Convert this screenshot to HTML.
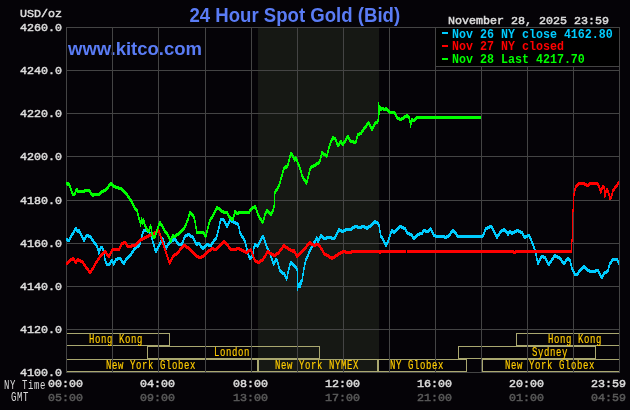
<!DOCTYPE html>
<html><head><meta charset="utf-8"><style>
html,body{margin:0;padding:0;background:#050307;width:630px;height:410px;overflow:hidden}
svg{display:block;will-change:transform}
text{text-rendering:optimizeLegibility}
</style></head><body><svg width="630" height="410" viewBox="0 0 630 410" shape-rendering="crispEdges"><defs><clipPath id="cl"><rect x="66" y="27" width="554" height="346"/></clipPath></defs><text transform="translate(189.5 22) scale(0.93 1)" font-family="Liberation Sans" font-weight="bold" font-size="20" fill="#5a7cf5">24 Hour Spot Gold (Bid)</text><text transform="translate(68 55) scale(0.975 1)" font-family="Liberation Sans" font-weight="bold" font-size="19" fill="#5a7cf5">www.kitco.com</text><rect x="258" y="27" width="121" height="346" fill="#161814"/><g clip-path="url(#cl)"><path d="M40 333h130v1h-130zM40 345h130v1h-130zM40 333h1v13h-1zM169 333h1v13h-1z" fill="#aaa870"/><path d="M516 333h135v1h-135zM516 345h135v1h-135zM516 333h1v13h-1zM650 333h1v13h-1z" fill="#aaa870"/><path d="M147 346h173v1h-173zM147 358h173v1h-173zM147 346h1v13h-1zM319 346h1v13h-1z" fill="#aaa870"/><path d="M458 346h138v1h-138zM458 358h138v1h-138zM458 346h1v13h-1zM595 346h1v13h-1z" fill="#aaa870"/><path d="M40 359h218v1h-218zM40 371h218v1h-218zM40 359h1v13h-1zM257 359h1v13h-1z" fill="#aaa870"/><path d="M258 359h120v1h-120zM258 371h120v1h-120zM258 359h1v13h-1zM377 359h1v13h-1z" fill="#aaa870"/><path d="M378 359h89v1h-89zM378 371h89v1h-89zM378 359h1v13h-1zM466 359h1v13h-1z" fill="#aaa870"/><path d="M482 359h169v1h-169zM482 371h169v1h-169zM482 359h1v13h-1zM650 359h1v13h-1z" fill="#aaa870"/></g><path d="M66 27h1v346h-1zM112 27h1v346h-1zM158 27h1v346h-1zM205 27h1v346h-1zM251 27h1v346h-1zM297 27h1v346h-1zM343 27h1v346h-1zM389 27h1v346h-1zM435 27h1v346h-1zM481 27h1v346h-1zM527 27h1v346h-1zM573 27h1v346h-1zM619 27h1v346h-1zM66 27h554v1h-554zM66 70h554v1h-554zM66 113h554v1h-554zM66 156h554v1h-554zM66 200h554v1h-554zM66 243h554v1h-554zM66 286h554v1h-554zM66 329h554v1h-554zM66 372h554v1h-554z" fill="#444444"/><rect x="436" y="28" width="183" height="38" fill="#000"/><path d="M435 27h185v1h-185zM435 66h185v1h-185zM435 27h1v40h-1zM619 27h1v40h-1z" fill="#444444"/><text transform="translate(62 31) scale(1 1.0)" font-family="Liberation Mono" font-size="11.67" stroke-width="0.5" fill="#dcdcdc" stroke="#dcdcdc" text-anchor="end">4260.0</text><text transform="translate(62 74) scale(1 1.0)" font-family="Liberation Mono" font-size="11.67" stroke-width="0.5" fill="#dcdcdc" stroke="#dcdcdc" text-anchor="end">4240.0</text><text transform="translate(62 117) scale(1 1.0)" font-family="Liberation Mono" font-size="11.67" stroke-width="0.5" fill="#dcdcdc" stroke="#dcdcdc" text-anchor="end">4220.0</text><text transform="translate(62 160) scale(1 1.0)" font-family="Liberation Mono" font-size="11.67" stroke-width="0.5" fill="#dcdcdc" stroke="#dcdcdc" text-anchor="end">4200.0</text><text transform="translate(62 204) scale(1 1.0)" font-family="Liberation Mono" font-size="11.67" stroke-width="0.5" fill="#dcdcdc" stroke="#dcdcdc" text-anchor="end">4180.0</text><text transform="translate(62 247) scale(1 1.0)" font-family="Liberation Mono" font-size="11.67" stroke-width="0.5" fill="#dcdcdc" stroke="#dcdcdc" text-anchor="end">4160.0</text><text transform="translate(62 290) scale(1 1.0)" font-family="Liberation Mono" font-size="11.67" stroke-width="0.5" fill="#dcdcdc" stroke="#dcdcdc" text-anchor="end">4140.0</text><text transform="translate(62 333) scale(1 1.0)" font-family="Liberation Mono" font-size="11.67" stroke-width="0.5" fill="#dcdcdc" stroke="#dcdcdc" text-anchor="end">4120.0</text><text transform="translate(62 376) scale(1 1.0)" font-family="Liberation Mono" font-size="11.67" stroke-width="0.5" fill="#dcdcdc" stroke="#dcdcdc" text-anchor="end">4100.0</text><text transform="translate(20 17) scale(1 1.0)" font-family="Liberation Mono" font-size="11.67" stroke-width="0.5" fill="#dcdcdc" stroke="#dcdcdc" text-anchor="start">USD/oz</text><text transform="translate(65.5 387) scale(1 1.0)" font-family="Liberation Mono" font-size="11.67" stroke-width="0.5" fill="#dcdcdc" stroke="#dcdcdc" text-anchor="middle">00:00</text><text transform="translate(65.5 401) scale(1 1.0)" font-family="Liberation Mono" font-size="11.67" stroke-width="0.5" fill="#5a5a5a" stroke="#5a5a5a" text-anchor="middle">05:00</text><text transform="translate(157.5 387) scale(1 1.0)" font-family="Liberation Mono" font-size="11.67" stroke-width="0.5" fill="#dcdcdc" stroke="#dcdcdc" text-anchor="middle">04:00</text><text transform="translate(157.5 401) scale(1 1.0)" font-family="Liberation Mono" font-size="11.67" stroke-width="0.5" fill="#5a5a5a" stroke="#5a5a5a" text-anchor="middle">09:00</text><text transform="translate(250.5 387) scale(1 1.0)" font-family="Liberation Mono" font-size="11.67" stroke-width="0.5" fill="#dcdcdc" stroke="#dcdcdc" text-anchor="middle">08:00</text><text transform="translate(250.5 401) scale(1 1.0)" font-family="Liberation Mono" font-size="11.67" stroke-width="0.5" fill="#5a5a5a" stroke="#5a5a5a" text-anchor="middle">13:00</text><text transform="translate(342.5 387) scale(1 1.0)" font-family="Liberation Mono" font-size="11.67" stroke-width="0.5" fill="#dcdcdc" stroke="#dcdcdc" text-anchor="middle">12:00</text><text transform="translate(342.5 401) scale(1 1.0)" font-family="Liberation Mono" font-size="11.67" stroke-width="0.5" fill="#5a5a5a" stroke="#5a5a5a" text-anchor="middle">17:00</text><text transform="translate(434.5 387) scale(1 1.0)" font-family="Liberation Mono" font-size="11.67" stroke-width="0.5" fill="#dcdcdc" stroke="#dcdcdc" text-anchor="middle">16:00</text><text transform="translate(434.5 401) scale(1 1.0)" font-family="Liberation Mono" font-size="11.67" stroke-width="0.5" fill="#5a5a5a" stroke="#5a5a5a" text-anchor="middle">21:00</text><text transform="translate(526.5 387) scale(1 1.0)" font-family="Liberation Mono" font-size="11.67" stroke-width="0.5" fill="#dcdcdc" stroke="#dcdcdc" text-anchor="middle">20:00</text><text transform="translate(526.5 401) scale(1 1.0)" font-family="Liberation Mono" font-size="11.67" stroke-width="0.5" fill="#5a5a5a" stroke="#5a5a5a" text-anchor="middle">01:00</text><text transform="translate(626 387) scale(1 1.0)" font-family="Liberation Mono" font-size="11.67" stroke-width="0.5" fill="#dcdcdc" stroke="#dcdcdc" text-anchor="end">23:59</text><text transform="translate(626 401) scale(1 1.0)" font-family="Liberation Mono" font-size="11.67" stroke-width="0.5" fill="#5a5a5a" stroke="#5a5a5a" text-anchor="end">04:59</text><text transform="translate(4 389) scale(0.9 1.2)" font-family="Liberation Mono" font-size="10" letter-spacing="0.667" fill="#dcdcdc" stroke="#dcdcdc" stroke-width="0">NY Time</text><text transform="translate(11 401) scale(0.9 1.2)" font-family="Liberation Mono" font-size="10" letter-spacing="0.667" fill="#dcdcdc" stroke="#dcdcdc" stroke-width="0">GMT</text><text transform="translate(89 343) scale(0.9 1.2)" font-family="Liberation Mono" font-size="10" letter-spacing="0.667" fill="#ffcc00" stroke="#ffcc00" stroke-width="0.15">Hong Kong</text><text transform="translate(548 343) scale(0.9 1.2)" font-family="Liberation Mono" font-size="10" letter-spacing="0.667" fill="#ffcc00" stroke="#ffcc00" stroke-width="0.15">Hong Kong</text><text transform="translate(214 356) scale(0.9 1.2)" font-family="Liberation Mono" font-size="10" letter-spacing="0.667" fill="#ffcc00" stroke="#ffcc00" stroke-width="0.15">London</text><text transform="translate(532 356) scale(0.9 1.2)" font-family="Liberation Mono" font-size="10" letter-spacing="0.667" fill="#ffcc00" stroke="#ffcc00" stroke-width="0.15">Sydney</text><text transform="translate(106 369) scale(0.9 1.2)" font-family="Liberation Mono" font-size="10" letter-spacing="0.667" fill="#ffcc00" stroke="#ffcc00" stroke-width="0.15">New York Globex</text><text transform="translate(275 369) scale(0.9 1.2)" font-family="Liberation Mono" font-size="10" letter-spacing="0.667" fill="#ffcc00" stroke="#ffcc00" stroke-width="0.15">New York NYMEX</text><text transform="translate(390 369) scale(0.9 1.2)" font-family="Liberation Mono" font-size="10" letter-spacing="0.667" fill="#ffcc00" stroke="#ffcc00" stroke-width="0.15">NY Globex</text><text transform="translate(505 369) scale(0.9 1.2)" font-family="Liberation Mono" font-size="10" letter-spacing="0.667" fill="#ffcc00" stroke="#ffcc00" stroke-width="0.15">New York Globex</text><text transform="translate(448 24) scale(1 1.0)" font-family="Liberation Mono" font-size="11.67" stroke-width="0.5" fill="#dcdcdc" stroke="#dcdcdc" text-anchor="start">November 28, 2025 23:59</text><rect x="442" y="32" width="6" height="2" fill="#00ccff"/><text transform="translate(452 38) scale(1 1.03)" font-family="Liberation Mono" font-weight="bold" font-size="11.67" fill="#00ccff">Nov 26 NY close 4162.80</text><rect x="442" y="45" width="6" height="2" fill="#ff0000"/><text transform="translate(452 50) scale(1 1.03)" font-family="Liberation Mono" font-weight="bold" font-size="11.67" fill="#ff0000">Nov 27 NY closed</text><rect x="442" y="58" width="6" height="2" fill="#00ff00"/><text transform="translate(452 63) scale(1 1.03)" font-family="Liberation Mono" font-weight="bold" font-size="11.67" fill="#00ff00">Nov 28 Last 4217.70</text><path d="M66 238h1v3h-1zM67 238h1v4h-1zM68 239h1v3h-1zM69 237h1v5h-1zM70 235h1v5h-1zM71 233h1v5h-1zM72 232h1v4h-1zM73 230h1v5h-1zM74 228h1v5h-1zM75 227h1v4h-1zM76 227h1v5h-1zM77 229h1v4h-1zM78 229h1v4h-1zM79 229h1v5h-1zM80 231h1v5h-1zM81 233h1v5h-1zM82 235h1v5h-1zM83 237h1v5h-1zM84 237h1v5h-1zM85 235h1v5h-1zM86 234h1v4h-1zM87 234h1v3h-1zM88 234h1v4h-1zM89 235h1v3h-1zM90 235h1v4h-1zM91 236h1v5h-1zM92 238h1v4h-1zM93 239h1v5h-1zM94 241h1v4h-1zM95 242h1v4h-1zM96 243h1v5h-1zM97 245h1v6h-1zM98 248h1v7h-1zM99 248h1v6h-1zM100 246h1v5h-1zM101 246h1v3h-1zM102 246h1v5h-1zM103 248h1v7h-1zM104 252h1v9h-1zM105 258h1v6h-1zM106 261h1v5h-1zM107 263h1v3h-1zM108 263h1v3h-1zM109 262h1v4h-1zM110 260h1v5h-1zM111 259h1v4h-1zM112 259h1v5h-1zM113 261h1v5h-1zM114 260h1v5h-1zM115 258h1v5h-1zM116 258h1v3h-1zM117 257h1v4h-1zM118 257h1v3h-1zM119 257h1v3h-1zM120 257h1v4h-1zM121 258h1v5h-1zM122 260h1v4h-1zM123 261h1v4h-1zM124 260h1v5h-1zM125 258h1v5h-1zM126 257h1v4h-1zM127 256h1v4h-1zM128 255h1v4h-1zM129 254h1v4h-1zM130 253h1v4h-1zM131 251h1v5h-1zM132 250h1v4h-1zM133 248h1v5h-1zM134 247h1v4h-1zM135 246h1v4h-1zM136 245h1v4h-1zM137 245h1v3h-1zM138 244h1v4h-1zM139 242h1v5h-1zM140 238h1v7h-1zM141 234h1v7h-1zM142 231h1v6h-1zM143 229h1v5h-1zM144 229h1v3h-1zM145 229h1v3h-1zM146 229h1v3h-1zM147 229h1v4h-1zM148 230h1v3h-1zM149 230h1v5h-1zM150 232h1v5h-1zM151 234h1v6h-1zM152 237h1v7h-1zM153 241h1v6h-1zM154 244h1v7h-1zM155 248h1v5h-1zM156 248h1v5h-1zM157 246h1v5h-1zM158 244h1v5h-1zM159 242h1v5h-1zM160 240h1v5h-1zM161 238h1v5h-1zM162 237h1v4h-1zM163 238h1v6h-1zM164 241h1v7h-1zM165 245h1v5h-1zM166 245h1v5h-1zM167 243h1v5h-1zM168 242h1v4h-1zM169 241h1v4h-1zM170 240h1v4h-1zM171 239h1v4h-1zM172 239h1v3h-1zM173 238h1v4h-1zM174 238h1v3h-1zM175 238h1v4h-1zM176 239h1v5h-1zM177 241h1v4h-1zM178 242h1v4h-1zM179 243h1v3h-1zM180 243h1v3h-1zM181 242h1v4h-1zM182 240h1v5h-1zM183 237h1v6h-1zM184 235h1v5h-1zM185 234h1v4h-1zM186 234h1v3h-1zM187 233h1v4h-1zM188 233h1v3h-1zM189 233h1v4h-1zM190 234h1v4h-1zM191 235h1v3h-1zM192 235h1v4h-1zM193 236h1v5h-1zM194 238h1v5h-1zM195 240h1v5h-1zM196 242h1v4h-1zM197 242h1v4h-1zM198 242h1v3h-1zM199 242h1v4h-1zM200 243h1v5h-1zM201 245h1v4h-1zM202 246h1v4h-1zM203 246h1v4h-1zM204 245h1v4h-1zM205 244h1v4h-1zM206 243h1v4h-1zM207 243h1v3h-1zM208 243h1v4h-1zM209 244h1v3h-1zM210 244h1v3h-1zM211 242h1v5h-1zM212 241h1v4h-1zM213 239h1v5h-1zM214 238h1v4h-1zM215 237h1v4h-1zM216 234h1v6h-1zM217 230h1v7h-1zM218 226h1v7h-1zM219 221h1v8h-1zM220 218h1v6h-1zM221 218h1v3h-1zM222 218h1v3h-1zM223 218h1v4h-1zM224 219h1v5h-1zM225 221h1v5h-1zM226 223h1v5h-1zM227 223h1v5h-1zM228 221h1v5h-1zM229 219h1v5h-1zM230 219h1v3h-1zM231 219h1v4h-1zM232 220h1v3h-1zM233 220h1v4h-1zM234 221h1v3h-1zM235 221h1v4h-1zM236 222h1v3h-1zM237 222h1v4h-1zM238 223h1v6h-1zM239 226h1v8h-1zM240 231h1v5h-1zM241 233h1v5h-1zM242 235h1v4h-1zM243 236h1v5h-1zM244 238h1v5h-1zM245 240h1v7h-1zM246 244h1v7h-1zM247 248h1v7h-1zM248 252h1v6h-1zM249 255h1v5h-1zM250 256h1v4h-1zM251 255h1v4h-1zM252 252h1v6h-1zM253 246h1v9h-1zM254 243h1v6h-1zM255 243h1v4h-1zM256 244h1v3h-1zM257 244h1v4h-1zM258 242h1v5h-1zM259 240h1v5h-1zM260 238h1v5h-1zM261 236h1v5h-1zM262 235h1v4h-1zM263 235h1v5h-1zM264 237h1v6h-1zM265 240h1v6h-1zM266 243h1v6h-1zM267 246h1v5h-1zM268 248h1v5h-1zM269 250h1v5h-1zM270 252h1v6h-1zM271 255h1v6h-1zM272 258h1v6h-1zM273 261h1v5h-1zM274 260h1v5h-1zM275 258h1v5h-1zM276 258h1v4h-1zM277 259h1v6h-1zM278 262h1v7h-1zM279 266h1v6h-1zM280 269h1v4h-1zM281 270h1v4h-1zM282 271h1v4h-1zM283 272h1v3h-1zM284 272h1v5h-1zM285 274h1v5h-1zM286 276h1v5h-1zM287 271h1v8h-1zM288 267h1v7h-1zM289 263h1v7h-1zM290 261h1v5h-1zM291 261h1v4h-1zM292 262h1v4h-1zM293 263h1v4h-1zM294 264h1v4h-1zM295 265h1v4h-1zM296 266h1v5h-1zM297 268h1v23h-1zM298 283h1v5h-1zM299 282h1v6h-1zM300 280h1v8h-1zM301 279h1v6h-1zM302 273h1v9h-1zM303 267h1v9h-1zM304 262h1v8h-1zM305 258h1v7h-1zM306 256h1v5h-1zM307 254h1v5h-1zM308 251h1v6h-1zM309 249h1v5h-1zM310 247h1v5h-1zM311 245h1v5h-1zM312 243h1v5h-1zM313 241h1v5h-1zM314 240h1v4h-1zM315 238h1v5h-1zM316 236h1v5h-1zM317 237h1v6h-1zM318 238h1v5h-1zM319 236h1v5h-1zM320 234h1v5h-1zM321 234h1v4h-1zM322 235h1v4h-1zM323 236h1v4h-1zM324 237h1v3h-1zM325 237h1v3h-1zM326 236h1v4h-1zM327 236h1v3h-1zM328 236h1v3h-1zM329 236h1v3h-1zM330 236h1v3h-1zM331 236h1v4h-1zM332 237h1v3h-1zM333 237h1v3h-1zM334 236h1v4h-1zM335 234h1v5h-1zM336 232h1v5h-1zM337 230h1v5h-1zM338 228h1v5h-1zM339 228h1v4h-1zM340 229h1v3h-1zM341 229h1v4h-1zM342 230h1v3h-1zM343 229h1v4h-1zM344 229h1v3h-1zM345 228h1v4h-1zM346 228h1v3h-1zM347 228h1v3h-1zM348 228h1v3h-1zM349 228h1v3h-1zM350 228h1v3h-1zM351 227h1v4h-1zM352 226h1v4h-1zM353 226h1v3h-1zM354 225h1v4h-1zM355 225h1v3h-1zM356 225h1v3h-1zM357 225h1v4h-1zM358 226h1v3h-1zM359 226h1v3h-1zM360 226h1v3h-1zM361 225h1v4h-1zM362 225h1v3h-1zM363 225h1v3h-1zM364 225h1v4h-1zM365 226h1v3h-1zM366 226h1v4h-1zM367 226h1v4h-1zM368 225h1v4h-1zM369 225h1v3h-1zM370 224h1v4h-1zM371 223h1v4h-1zM372 222h1v4h-1zM373 221h1v4h-1zM374 220h1v4h-1zM375 220h1v4h-1zM376 221h1v3h-1zM377 221h1v4h-1zM378 222h1v5h-1zM379 224h1v9h-1zM380 230h1v8h-1zM381 235h1v4h-1zM382 236h1v5h-1zM383 238h1v5h-1zM384 240h1v5h-1zM385 242h1v5h-1zM386 242h1v5h-1zM387 240h1v5h-1zM388 237h1v6h-1zM389 234h1v6h-1zM390 231h1v6h-1zM391 229h1v5h-1zM392 229h1v4h-1zM393 230h1v4h-1zM394 230h1v4h-1zM395 229h1v4h-1zM396 228h1v4h-1zM397 227h1v4h-1zM398 226h1v4h-1zM399 225h1v4h-1zM400 225h1v3h-1zM401 225h1v4h-1zM402 226h1v3h-1zM403 226h1v4h-1zM404 227h1v3h-1zM405 227h1v5h-1zM406 229h1v5h-1zM407 231h1v4h-1zM408 232h1v3h-1zM409 232h1v4h-1zM410 233h1v3h-1zM411 233h1v4h-1zM412 234h1v5h-1zM413 236h1v4h-1zM414 236h1v4h-1zM415 235h1v4h-1zM416 234h1v4h-1zM417 233h1v4h-1zM418 233h1v3h-1zM419 232h1v4h-1zM420 232h1v3h-1zM421 232h1v3h-1zM422 230h1v5h-1zM423 229h1v4h-1zM424 229h1v3h-1zM425 229h1v4h-1zM426 230h1v3h-1zM427 230h1v3h-1zM428 229h1v4h-1zM429 228h1v4h-1zM430 227h1v4h-1zM431 228h1v5h-1zM432 230h1v5h-1zM433 232h1v5h-1zM434 234h1v3h-1zM435 234h1v4h-1zM436 235h1v3h-1zM437 235h1v3h-1zM438 235h1v3h-1zM439 235h1v3h-1zM440 235h1v3h-1zM441 235h1v3h-1zM442 235h1v3h-1zM443 235h1v3h-1zM444 235h1v4h-1zM445 236h1v3h-1zM446 235h1v4h-1zM447 235h1v3h-1zM448 234h1v4h-1zM449 233h1v4h-1zM450 231h1v5h-1zM451 230h1v4h-1zM452 229h1v4h-1zM453 229h1v4h-1zM454 230h1v4h-1zM455 231h1v4h-1zM456 232h1v5h-1zM457 234h1v4h-1zM458 235h1v3h-1zM459 235h1v3h-1zM460 235h1v3h-1zM461 235h1v3h-1zM462 235h1v3h-1zM463 235h1v3h-1zM464 235h1v3h-1zM465 235h1v3h-1zM466 235h1v3h-1zM467 235h1v3h-1zM468 235h1v3h-1zM469 235h1v3h-1zM470 235h1v3h-1zM471 235h1v3h-1zM472 235h1v3h-1zM473 235h1v3h-1zM474 235h1v3h-1zM475 235h1v3h-1zM476 235h1v3h-1zM477 235h1v3h-1zM478 235h1v3h-1zM479 235h1v3h-1zM480 235h1v3h-1zM481 235h1v3h-1zM482 234h1v4h-1zM483 232h1v5h-1zM484 229h1v6h-1zM485 227h1v5h-1zM486 227h1v3h-1zM487 226h1v4h-1zM488 226h1v3h-1zM489 225h1v4h-1zM490 225h1v3h-1zM491 225h1v4h-1zM492 226h1v5h-1zM493 228h1v5h-1zM494 230h1v5h-1zM495 232h1v5h-1zM496 234h1v5h-1zM497 234h1v5h-1zM498 233h1v4h-1zM499 231h1v5h-1zM500 230h1v4h-1zM501 229h1v4h-1zM502 229h1v3h-1zM503 228h1v4h-1zM504 228h1v4h-1zM505 229h1v4h-1zM506 230h1v4h-1zM507 231h1v5h-1zM508 231h1v5h-1zM509 230h1v4h-1zM510 230h1v4h-1zM511 231h1v4h-1zM512 231h1v4h-1zM513 231h1v3h-1zM514 230h1v4h-1zM515 230h1v3h-1zM516 229h1v4h-1zM517 229h1v3h-1zM518 229h1v4h-1zM519 230h1v3h-1zM520 230h1v4h-1zM521 231h1v3h-1zM522 231h1v5h-1zM523 233h1v5h-1zM524 235h1v4h-1zM525 235h1v4h-1zM526 235h1v3h-1zM527 234h1v4h-1zM528 234h1v3h-1zM529 234h1v5h-1zM530 236h1v5h-1zM531 238h1v6h-1zM532 241h1v5h-1zM533 243h1v6h-1zM534 246h1v6h-1zM535 249h1v7h-1zM536 253h1v8h-1zM537 258h1v7h-1zM538 260h1v5h-1zM539 258h1v5h-1zM540 256h1v5h-1zM541 255h1v4h-1zM542 255h1v3h-1zM543 255h1v4h-1zM544 256h1v3h-1zM545 256h1v5h-1zM546 258h1v5h-1zM547 260h1v5h-1zM548 262h1v4h-1zM549 261h1v5h-1zM550 260h1v4h-1zM551 258h1v5h-1zM552 257h1v4h-1zM553 255h1v5h-1zM554 254h1v4h-1zM555 254h1v4h-1zM556 255h1v3h-1zM557 255h1v4h-1zM558 256h1v3h-1zM559 256h1v4h-1zM560 257h1v4h-1zM561 258h1v5h-1zM562 260h1v4h-1zM563 261h1v4h-1zM564 261h1v4h-1zM565 259h1v5h-1zM566 258h1v4h-1zM567 257h1v4h-1zM568 257h1v4h-1zM569 258h1v4h-1zM570 259h1v7h-1zM571 263h1v7h-1zM572 267h1v5h-1zM573 269h1v5h-1zM574 271h1v5h-1zM575 273h1v3h-1zM576 273h1v3h-1zM577 272h1v4h-1zM578 270h1v5h-1zM579 269h1v4h-1zM580 268h1v4h-1zM581 267h1v4h-1zM582 266h1v4h-1zM583 265h1v4h-1zM584 265h1v4h-1zM585 266h1v4h-1zM586 267h1v4h-1zM587 268h1v4h-1zM588 269h1v3h-1zM589 269h1v4h-1zM590 270h1v3h-1zM591 270h1v3h-1zM592 270h1v3h-1zM593 270h1v3h-1zM594 270h1v3h-1zM595 269h1v4h-1zM596 269h1v3h-1zM597 269h1v3h-1zM598 269h1v5h-1zM599 271h1v5h-1zM600 273h1v5h-1zM601 275h1v4h-1zM602 274h1v5h-1zM603 272h1v5h-1zM604 271h1v4h-1zM605 271h1v3h-1zM606 270h1v4h-1zM607 269h1v4h-1zM608 265h1v7h-1zM609 262h1v6h-1zM610 261h1v4h-1zM611 259h1v5h-1zM612 258h1v4h-1zM613 258h1v3h-1zM614 258h1v3h-1zM615 258h1v3h-1zM616 258h1v3h-1zM617 258h1v5h-1zM618 260h1v5h-1z" fill="#00ccff"/><path d="M66 262h1v3h-1zM67 261h1v4h-1zM68 260h1v4h-1zM69 259h1v4h-1zM70 258h1v4h-1zM71 258h1v3h-1zM72 257h1v4h-1zM73 257h1v4h-1zM74 258h1v5h-1zM75 260h1v4h-1zM76 259h1v5h-1zM77 258h1v4h-1zM78 258h1v4h-1zM79 259h1v3h-1zM80 259h1v4h-1zM81 260h1v3h-1zM82 260h1v4h-1zM83 261h1v5h-1zM84 263h1v4h-1zM85 264h1v5h-1zM86 266h1v4h-1zM87 267h1v4h-1zM88 268h1v5h-1zM89 270h1v4h-1zM90 270h1v4h-1zM91 268h1v5h-1zM92 267h1v4h-1zM93 265h1v5h-1zM94 263h1v5h-1zM95 261h1v5h-1zM96 260h1v4h-1zM97 258h1v5h-1zM98 257h1v4h-1zM99 255h1v5h-1zM100 254h1v4h-1zM101 253h1v4h-1zM102 252h1v4h-1zM103 251h1v4h-1zM104 250h1v4h-1zM105 250h1v4h-1zM106 251h1v5h-1zM107 253h1v4h-1zM108 254h1v4h-1zM109 253h1v5h-1zM110 251h1v5h-1zM111 249h1v5h-1zM112 248h1v4h-1zM113 248h1v3h-1zM114 248h1v3h-1zM115 248h1v3h-1zM116 248h1v3h-1zM117 248h1v3h-1zM118 248h1v3h-1zM119 246h1v5h-1zM120 244h1v5h-1zM121 242h1v5h-1zM122 242h1v3h-1zM123 241h1v4h-1zM124 241h1v3h-1zM125 241h1v4h-1zM126 242h1v5h-1zM127 244h1v4h-1zM128 245h1v3h-1zM129 245h1v3h-1zM130 245h1v3h-1zM131 244h1v4h-1zM132 244h1v3h-1zM133 244h1v3h-1zM134 244h1v3h-1zM135 243h1v4h-1zM136 242h1v4h-1zM137 241h1v4h-1zM138 240h1v4h-1zM139 239h1v4h-1zM140 238h1v4h-1zM141 238h1v3h-1zM142 237h1v4h-1zM143 237h1v3h-1zM144 236h1v4h-1zM145 236h1v3h-1zM146 235h1v4h-1zM147 235h1v3h-1zM148 234h1v4h-1zM149 234h1v3h-1zM150 233h1v4h-1zM151 233h1v3h-1zM152 232h1v4h-1zM153 232h1v3h-1zM154 231h1v4h-1zM155 231h1v3h-1zM156 230h1v4h-1zM157 230h1v3h-1zM158 229h1v4h-1zM159 230h1v6h-1zM160 233h1v6h-1zM161 236h1v6h-1zM162 239h1v6h-1zM163 242h1v6h-1zM164 245h1v6h-1zM165 248h1v6h-1zM166 251h1v6h-1zM167 254h1v6h-1zM168 257h1v6h-1zM169 260h1v5h-1zM170 259h1v5h-1zM171 257h1v5h-1zM172 255h1v5h-1zM173 254h1v4h-1zM174 253h1v4h-1zM175 253h1v3h-1zM176 252h1v4h-1zM177 251h1v4h-1zM178 250h1v4h-1zM179 248h1v5h-1zM180 247h1v4h-1zM181 246h1v4h-1zM182 245h1v4h-1zM183 244h1v4h-1zM184 244h1v3h-1zM185 244h1v4h-1zM186 245h1v4h-1zM187 246h1v3h-1zM188 246h1v4h-1zM189 247h1v4h-1zM190 248h1v4h-1zM191 249h1v4h-1zM192 250h1v4h-1zM193 251h1v4h-1zM194 252h1v4h-1zM195 253h1v4h-1zM196 254h1v4h-1zM197 255h1v3h-1zM198 255h1v4h-1zM199 256h1v3h-1zM200 256h1v3h-1zM201 255h1v4h-1zM202 255h1v3h-1zM203 254h1v4h-1zM204 253h1v4h-1zM205 252h1v4h-1zM206 251h1v4h-1zM207 250h1v4h-1zM208 249h1v4h-1zM209 249h1v3h-1zM210 248h1v4h-1zM211 247h1v4h-1zM212 247h1v3h-1zM213 247h1v4h-1zM214 248h1v3h-1zM215 248h1v3h-1zM216 247h1v4h-1zM217 246h1v4h-1zM218 245h1v4h-1zM219 244h1v4h-1zM220 243h1v4h-1zM221 242h1v4h-1zM222 241h1v4h-1zM223 240h1v4h-1zM224 240h1v4h-1zM225 241h1v4h-1zM226 242h1v4h-1zM227 243h1v4h-1zM228 244h1v5h-1zM229 246h1v4h-1zM230 247h1v4h-1zM231 248h1v3h-1zM232 248h1v3h-1zM233 248h1v3h-1zM234 248h1v3h-1zM235 248h1v3h-1zM236 247h1v4h-1zM237 247h1v3h-1zM238 247h1v3h-1zM239 247h1v4h-1zM240 248h1v3h-1zM241 248h1v4h-1zM242 249h1v3h-1zM243 249h1v4h-1zM244 250h1v3h-1zM245 250h1v4h-1zM246 251h1v3h-1zM247 250h1v4h-1zM248 249h1v4h-1zM249 249h1v3h-1zM250 248h1v4h-1zM251 249h1v5h-1zM252 251h1v6h-1zM253 254h1v6h-1zM254 257h1v5h-1zM255 259h1v4h-1zM256 260h1v3h-1zM257 260h1v4h-1zM258 261h1v3h-1zM259 260h1v4h-1zM260 259h1v4h-1zM261 259h1v3h-1zM262 258h1v4h-1zM263 256h1v5h-1zM264 255h1v4h-1zM265 253h1v5h-1zM266 251h1v5h-1zM267 250h1v4h-1zM268 250h1v4h-1zM269 251h1v4h-1zM270 252h1v3h-1zM271 252h1v4h-1zM272 253h1v3h-1zM273 253h1v4h-1zM274 254h1v3h-1zM275 253h1v4h-1zM276 252h1v4h-1zM277 252h1v3h-1zM278 251h1v4h-1zM279 249h1v5h-1zM280 248h1v4h-1zM281 247h1v4h-1zM282 245h1v5h-1zM283 244h1v4h-1zM284 244h1v4h-1zM285 245h1v4h-1zM286 246h1v3h-1zM287 246h1v4h-1zM288 247h1v4h-1zM289 248h1v3h-1zM290 248h1v4h-1zM291 249h1v3h-1zM292 249h1v4h-1zM293 249h1v4h-1zM294 249h1v5h-1zM295 251h1v5h-1zM296 253h1v5h-1zM297 254h1v4h-1zM298 253h1v4h-1zM299 252h1v4h-1zM300 251h1v4h-1zM301 250h1v4h-1zM302 249h1v4h-1zM303 248h1v4h-1zM304 247h1v4h-1zM305 246h1v4h-1zM306 244h1v5h-1zM307 243h1v4h-1zM308 242h1v4h-1zM309 241h1v4h-1zM310 241h1v4h-1zM311 242h1v4h-1zM312 243h1v3h-1zM313 243h1v4h-1zM314 244h1v3h-1zM315 243h1v4h-1zM316 243h1v3h-1zM317 243h1v3h-1zM318 243h1v4h-1zM319 244h1v4h-1zM320 245h1v5h-1zM321 247h1v4h-1zM322 248h1v5h-1zM323 250h1v5h-1zM324 252h1v4h-1zM325 253h1v3h-1zM326 253h1v4h-1zM327 254h1v3h-1zM328 254h1v4h-1zM329 255h1v4h-1zM330 256h1v3h-1zM331 256h1v4h-1zM332 256h1v4h-1zM333 256h1v3h-1zM334 255h1v4h-1zM335 254h1v4h-1zM336 254h1v3h-1zM337 253h1v4h-1zM338 252h1v4h-1zM339 252h1v3h-1zM340 251h1v4h-1zM341 251h1v3h-1zM342 250h1v4h-1zM343 250h1v3h-1zM344 250h1v3h-1zM345 250h1v4h-1zM346 251h1v3h-1zM347 251h1v3h-1zM348 251h1v3h-1zM349 251h1v3h-1zM350 251h1v3h-1zM351 250h1v4h-1zM352 250h1v3h-1zM353 250h1v3h-1zM354 250h1v3h-1zM355 250h1v3h-1zM356 250h1v3h-1zM357 250h1v3h-1zM358 250h1v3h-1zM359 250h1v3h-1zM360 250h1v3h-1zM361 250h1v3h-1zM362 250h1v3h-1zM363 250h1v3h-1zM364 250h1v3h-1zM365 250h1v3h-1zM366 250h1v3h-1zM367 250h1v3h-1zM368 250h1v3h-1zM369 250h1v3h-1zM370 250h1v3h-1zM371 250h1v3h-1zM372 250h1v3h-1zM373 250h1v3h-1zM374 250h1v3h-1zM375 250h1v3h-1zM376 250h1v3h-1zM377 250h1v3h-1zM378 250h1v3h-1zM379 250h1v4h-1zM380 250h1v4h-1zM381 250h1v3h-1zM382 250h1v3h-1zM383 250h1v3h-1zM384 250h1v3h-1zM385 250h1v3h-1zM386 250h1v3h-1zM387 250h1v3h-1zM388 250h1v3h-1zM389 250h1v3h-1zM390 250h1v3h-1zM391 250h1v3h-1zM392 250h1v3h-1zM393 250h1v3h-1zM394 250h1v3h-1zM395 250h1v3h-1zM396 250h1v3h-1zM397 250h1v3h-1zM398 250h1v3h-1zM399 250h1v3h-1zM400 250h1v3h-1zM401 250h1v3h-1zM402 250h1v3h-1zM403 250h1v3h-1zM404 250h1v3h-1zM405 250h1v3h-1zM407 250h1v3h-1zM408 250h1v3h-1zM409 250h1v3h-1zM410 250h1v3h-1zM411 250h1v3h-1zM412 250h1v3h-1zM413 250h1v3h-1zM414 250h1v3h-1zM415 250h1v3h-1zM416 250h1v3h-1zM417 250h1v3h-1zM418 250h1v3h-1zM419 250h1v3h-1zM420 250h1v3h-1zM421 250h1v3h-1zM422 250h1v3h-1zM423 250h1v3h-1zM424 250h1v3h-1zM425 250h1v3h-1zM426 250h1v3h-1zM427 250h1v3h-1zM428 250h1v3h-1zM429 250h1v3h-1zM430 250h1v3h-1zM431 250h1v3h-1zM432 250h1v3h-1zM433 250h1v3h-1zM434 250h1v3h-1zM435 250h1v3h-1zM436 250h1v3h-1zM437 250h1v3h-1zM438 250h1v3h-1zM439 250h1v3h-1zM440 250h1v3h-1zM441 250h1v3h-1zM442 250h1v3h-1zM443 250h1v3h-1zM444 250h1v3h-1zM445 250h1v3h-1zM446 250h1v3h-1zM447 250h1v3h-1zM448 250h1v3h-1zM449 250h1v3h-1zM450 250h1v3h-1zM451 250h1v3h-1zM452 250h1v3h-1zM453 250h1v3h-1zM454 250h1v3h-1zM455 250h1v3h-1zM456 250h1v3h-1zM457 250h1v3h-1zM458 250h1v3h-1zM459 250h1v3h-1zM460 250h1v3h-1zM461 250h1v3h-1zM462 250h1v3h-1zM463 250h1v3h-1zM464 250h1v3h-1zM465 250h1v3h-1zM466 250h1v3h-1zM467 250h1v3h-1zM468 250h1v3h-1zM469 250h1v3h-1zM470 250h1v3h-1zM471 250h1v3h-1zM472 250h1v3h-1zM473 250h1v3h-1zM474 250h1v3h-1zM475 250h1v3h-1zM476 250h1v3h-1zM477 250h1v3h-1zM478 250h1v3h-1zM479 250h1v3h-1zM480 250h1v3h-1zM481 250h1v3h-1zM482 250h1v3h-1zM483 250h1v3h-1zM484 250h1v3h-1zM485 250h1v3h-1zM486 250h1v3h-1zM487 250h1v3h-1zM488 250h1v3h-1zM489 250h1v3h-1zM490 250h1v3h-1zM491 250h1v3h-1zM492 250h1v3h-1zM493 250h1v3h-1zM494 250h1v3h-1zM495 250h1v3h-1zM496 250h1v3h-1zM497 250h1v3h-1zM498 250h1v3h-1zM499 250h1v3h-1zM500 250h1v3h-1zM501 250h1v3h-1zM502 250h1v3h-1zM503 250h1v3h-1zM504 250h1v3h-1zM505 250h1v3h-1zM506 250h1v3h-1zM507 250h1v3h-1zM508 250h1v3h-1zM509 250h1v3h-1zM510 250h1v3h-1zM511 250h1v3h-1zM512 250h1v3h-1zM513 250h1v4h-1zM514 251h1v3h-1zM515 250h1v4h-1zM516 250h1v3h-1zM517 250h1v3h-1zM518 250h1v3h-1zM519 250h1v3h-1zM520 250h1v3h-1zM521 250h1v3h-1zM522 250h1v3h-1zM523 250h1v3h-1zM524 250h1v3h-1zM525 250h1v3h-1zM526 250h1v3h-1zM527 250h1v3h-1zM528 250h1v3h-1zM529 250h1v3h-1zM530 250h1v3h-1zM531 250h1v3h-1zM532 250h1v3h-1zM533 250h1v3h-1zM534 250h1v3h-1zM535 250h1v3h-1zM536 250h1v3h-1zM537 250h1v3h-1zM538 250h1v3h-1zM539 250h1v3h-1zM540 250h1v3h-1zM541 250h1v3h-1zM542 250h1v3h-1zM543 250h1v3h-1zM544 250h1v3h-1zM545 250h1v3h-1zM546 250h1v3h-1zM547 250h1v3h-1zM548 250h1v3h-1zM549 250h1v3h-1zM550 250h1v3h-1zM551 250h1v3h-1zM552 250h1v3h-1zM553 250h1v3h-1zM554 250h1v3h-1zM555 250h1v3h-1zM556 250h1v3h-1zM557 250h1v3h-1zM558 250h1v3h-1zM559 250h1v3h-1zM560 250h1v3h-1zM561 250h1v3h-1zM562 250h1v3h-1zM563 250h1v3h-1zM564 250h1v3h-1zM565 250h1v3h-1zM566 250h1v3h-1zM567 250h1v3h-1zM568 250h1v3h-1zM569 250h1v3h-1zM570 250h1v3h-1zM571 239h1v14h-1zM572 209h1v33h-1zM573 193h1v19h-1zM574 188h1v8h-1zM575 185h1v6h-1zM576 184h1v4h-1zM577 183h1v4h-1zM578 182h1v4h-1zM579 182h1v3h-1zM580 182h1v3h-1zM581 182h1v3h-1zM582 182h1v3h-1zM583 182h1v3h-1zM584 182h1v4h-1zM585 183h1v3h-1zM586 183h1v4h-1zM587 184h1v3h-1zM588 183h1v4h-1zM589 182h1v4h-1zM590 182h1v3h-1zM591 182h1v3h-1zM592 182h1v3h-1zM593 182h1v3h-1zM594 182h1v3h-1zM595 182h1v3h-1zM596 182h1v3h-1zM597 182h1v4h-1zM598 183h1v5h-1zM599 185h1v6h-1zM600 188h1v6h-1zM601 187h1v6h-1zM602 185h1v5h-1zM603 185h1v4h-1zM604 186h1v12h-1zM605 190h1v7h-1zM606 188h1v5h-1zM607 188h1v5h-1zM608 190h1v6h-1zM609 193h1v7h-1zM610 196h1v4h-1zM611 193h1v6h-1zM612 189h1v7h-1zM613 188h1v4h-1zM614 186h1v5h-1zM615 185h1v4h-1zM616 184h1v4h-1zM617 182h1v5h-1zM618 181h1v4h-1z" fill="#ff0000"/><path d="M66 182h1v3h-1zM67 182h1v4h-1zM68 182h1v4h-1zM69 183h1v5h-1zM70 185h1v6h-1zM71 188h1v6h-1zM72 191h1v5h-1zM73 193h1v3h-1zM74 192h1v4h-1zM75 189h1v6h-1zM76 188h1v4h-1zM77 188h1v5h-1zM78 190h1v3h-1zM79 190h1v3h-1zM80 190h1v3h-1zM81 190h1v3h-1zM82 190h1v3h-1zM83 190h1v3h-1zM84 189h1v4h-1zM85 189h1v3h-1zM86 189h1v3h-1zM87 189h1v3h-1zM88 189h1v3h-1zM89 189h1v4h-1zM90 190h1v5h-1zM91 192h1v4h-1zM92 193h1v4h-1zM93 193h1v4h-1zM94 193h1v3h-1zM95 193h1v3h-1zM96 193h1v3h-1zM97 193h1v3h-1zM98 193h1v3h-1zM99 192h1v4h-1zM100 191h1v4h-1zM101 190h1v4h-1zM102 190h1v3h-1zM103 189h1v4h-1zM104 189h1v3h-1zM105 188h1v4h-1zM106 187h1v4h-1zM107 186h1v4h-1zM108 184h1v5h-1zM109 183h1v4h-1zM110 182h1v4h-1zM111 182h1v4h-1zM112 183h1v4h-1zM113 184h1v4h-1zM114 185h1v3h-1zM115 185h1v4h-1zM116 186h1v3h-1zM117 186h1v3h-1zM118 186h1v4h-1zM119 187h1v3h-1zM120 187h1v3h-1zM121 187h1v4h-1zM122 188h1v4h-1zM123 189h1v4h-1zM124 190h1v4h-1zM125 191h1v4h-1zM126 192h1v4h-1zM127 193h1v5h-1zM128 195h1v4h-1zM129 196h1v5h-1zM130 198h1v4h-1zM131 199h1v5h-1zM132 201h1v5h-1zM133 203h1v5h-1zM134 205h1v5h-1zM135 207h1v4h-1zM136 208h1v4h-1zM137 209h1v7h-1zM138 213h1v7h-1zM139 217h1v6h-1zM140 220h1v7h-1zM141 217h1v7h-1zM142 219h1v6h-1zM143 218h1v6h-1zM144 220h1v7h-1zM145 224h1v5h-1zM146 226h1v5h-1zM147 228h1v4h-1zM148 229h1v4h-1zM149 226h1v6h-1zM150 224h1v5h-1zM151 226h1v9h-1zM152 232h1v6h-1zM153 235h1v4h-1zM154 235h1v4h-1zM155 232h1v6h-1zM156 229h1v6h-1zM157 226h1v6h-1zM158 223h1v6h-1zM159 221h1v5h-1zM160 221h1v5h-1zM161 223h1v4h-1zM162 224h1v5h-1zM163 226h1v5h-1zM164 228h1v5h-1zM165 230h1v4h-1zM166 231h1v4h-1zM167 232h1v5h-1zM168 234h1v5h-1zM169 236h1v5h-1zM170 238h1v5h-1zM171 236h1v6h-1zM172 234h1v5h-1zM173 234h1v4h-1zM174 235h1v3h-1zM175 234h1v4h-1zM176 233h1v4h-1zM177 233h1v3h-1zM178 232h1v4h-1zM179 231h1v4h-1zM180 230h1v4h-1zM181 229h1v4h-1zM182 228h1v4h-1zM183 227h1v4h-1zM184 225h1v5h-1zM185 223h1v5h-1zM186 220h1v6h-1zM187 218h1v5h-1zM188 214h1v7h-1zM189 211h1v6h-1zM190 211h1v4h-1zM191 212h1v4h-1zM192 213h1v4h-1zM193 214h1v5h-1zM194 216h1v7h-1zM195 220h1v9h-1zM196 226h1v8h-1zM197 231h1v3h-1zM198 231h1v3h-1zM199 231h1v3h-1zM200 231h1v3h-1zM201 231h1v3h-1zM202 231h1v3h-1zM203 231h1v4h-1zM204 232h1v5h-1zM205 234h1v4h-1zM206 230h1v7h-1zM207 226h1v7h-1zM208 222h1v7h-1zM209 219h1v6h-1zM210 217h1v5h-1zM211 216h1v4h-1zM212 214h1v5h-1zM213 212h1v5h-1zM214 210h1v5h-1zM215 208h1v5h-1zM216 206h1v5h-1zM217 206h1v4h-1zM218 207h1v3h-1zM219 207h1v4h-1zM220 208h1v4h-1zM221 209h1v4h-1zM222 210h1v3h-1zM223 210h1v4h-1zM224 211h1v3h-1zM225 211h1v3h-1zM226 211h1v3h-1zM227 211h1v5h-1zM228 213h1v5h-1zM229 215h1v4h-1zM230 216h1v4h-1zM231 217h1v4h-1zM232 217h1v4h-1zM233 214h1v6h-1zM234 210h1v7h-1zM235 210h1v4h-1zM236 211h1v4h-1zM237 212h1v3h-1zM238 211h1v4h-1zM239 211h1v3h-1zM240 211h1v3h-1zM241 211h1v3h-1zM242 211h1v3h-1zM243 211h1v3h-1zM244 211h1v3h-1zM245 211h1v3h-1zM246 211h1v3h-1zM247 211h1v3h-1zM248 211h1v3h-1zM249 209h1v5h-1zM250 208h1v4h-1zM251 207h1v4h-1zM252 206h1v4h-1zM253 206h1v3h-1zM254 205h1v4h-1zM255 205h1v5h-1zM256 207h1v6h-1zM257 210h1v6h-1zM258 213h1v5h-1zM259 215h1v5h-1zM260 217h1v4h-1zM261 218h1v5h-1zM262 220h1v4h-1zM263 217h1v6h-1zM264 213h1v7h-1zM265 211h1v5h-1zM266 209h1v5h-1zM267 209h1v4h-1zM268 210h1v4h-1zM269 211h1v4h-1zM270 212h1v4h-1zM271 211h1v5h-1zM272 209h1v5h-1zM273 205h1v7h-1zM274 191h1v17h-1zM275 189h1v5h-1zM276 188h1v4h-1zM277 186h1v5h-1zM278 184h1v5h-1zM279 181h1v6h-1zM280 177h1v7h-1zM281 174h1v6h-1zM282 170h1v7h-1zM283 167h1v6h-1zM284 166h1v4h-1zM285 165h1v4h-1zM286 165h1v4h-1zM287 163h1v5h-1zM288 159h1v7h-1zM289 155h1v7h-1zM290 152h1v6h-1zM291 152h1v4h-1zM292 153h1v5h-1zM293 155h1v5h-1zM294 157h1v5h-1zM295 156h1v5h-1zM296 157h1v5h-1zM297 159h1v6h-1zM298 162h1v5h-1zM299 164h1v6h-1zM300 167h1v6h-1zM301 170h1v7h-1zM302 174h1v5h-1zM303 176h1v5h-1zM304 178h1v4h-1zM305 179h1v5h-1zM306 180h1v5h-1zM307 176h1v7h-1zM308 172h1v7h-1zM309 168h1v7h-1zM310 166h1v5h-1zM311 165h1v4h-1zM312 165h1v3h-1zM313 164h1v4h-1zM314 164h1v3h-1zM315 163h1v4h-1zM316 162h1v4h-1zM317 162h1v3h-1zM318 161h1v4h-1zM319 159h1v5h-1zM320 155h1v7h-1zM321 151h1v7h-1zM322 151h1v4h-1zM323 152h1v4h-1zM324 153h1v3h-1zM325 153h1v4h-1zM326 154h1v4h-1zM327 150h1v7h-1zM328 146h1v7h-1zM329 143h1v6h-1zM330 140h1v6h-1zM331 138h1v5h-1zM332 136h1v5h-1zM333 136h1v4h-1zM334 137h1v3h-1zM335 137h1v5h-1zM336 139h1v6h-1zM337 142h1v5h-1zM338 143h1v4h-1zM339 141h1v5h-1zM340 140h1v4h-1zM341 140h1v5h-1zM342 142h1v4h-1zM343 141h1v5h-1zM344 140h1v4h-1zM345 138h1v5h-1zM346 136h1v5h-1zM347 135h1v4h-1zM348 135h1v5h-1zM349 137h1v5h-1zM350 139h1v4h-1zM351 140h1v3h-1zM352 140h1v3h-1zM353 140h1v4h-1zM354 141h1v3h-1zM355 140h1v4h-1zM356 136h1v7h-1zM357 133h1v6h-1zM358 133h1v3h-1zM359 132h1v4h-1zM360 132h1v3h-1zM361 130h1v5h-1zM362 129h1v4h-1zM363 127h1v5h-1zM364 126h1v4h-1zM365 125h1v4h-1zM366 123h1v5h-1zM367 122h1v4h-1zM368 121h1v4h-1zM369 122h1v5h-1zM370 124h1v5h-1zM371 126h1v5h-1zM372 126h1v5h-1zM373 124h1v5h-1zM374 122h1v5h-1zM375 121h1v4h-1zM376 121h1v3h-1zM377 119h1v5h-1zM378 102h1v20h-1zM379 105h1v10h-1zM380 106h1v5h-1zM381 107h1v4h-1zM382 107h1v3h-1zM383 107h1v4h-1zM384 108h1v3h-1zM385 107h1v4h-1zM386 107h1v4h-1zM387 108h1v4h-1zM388 109h1v4h-1zM389 110h1v4h-1zM390 111h1v3h-1zM391 111h1v3h-1zM392 111h1v3h-1zM393 111h1v3h-1zM394 111h1v4h-1zM395 112h1v5h-1zM396 114h1v5h-1zM397 116h1v4h-1zM398 117h1v3h-1zM399 117h1v4h-1zM400 118h1v3h-1zM401 117h1v4h-1zM402 117h1v3h-1zM403 116h1v4h-1zM404 115h1v4h-1zM405 115h1v3h-1zM406 114h1v4h-1zM407 114h1v4h-1zM408 115h1v4h-1zM409 116h1v7h-1zM410 120h1v8h-1zM411 118h1v7h-1zM412 118h1v4h-1zM413 119h1v3h-1zM414 118h1v4h-1zM415 117h1v4h-1zM416 116h1v4h-1zM417 116h1v3h-1zM418 116h1v3h-1zM419 116h1v3h-1zM420 116h1v3h-1zM421 116h1v3h-1zM422 116h1v3h-1zM423 116h1v3h-1zM424 116h1v3h-1zM425 116h1v3h-1zM426 116h1v3h-1zM427 116h1v3h-1zM428 116h1v3h-1zM429 116h1v3h-1zM430 116h1v3h-1zM431 116h1v3h-1zM432 116h1v3h-1zM433 116h1v3h-1zM434 116h1v3h-1zM435 116h1v3h-1zM436 116h1v3h-1zM437 116h1v3h-1zM438 116h1v3h-1zM439 116h1v3h-1zM440 116h1v3h-1zM441 116h1v3h-1zM442 116h1v3h-1zM443 116h1v3h-1zM444 116h1v3h-1zM445 116h1v3h-1zM446 116h1v3h-1zM447 116h1v3h-1zM448 116h1v3h-1zM449 116h1v3h-1zM450 116h1v3h-1zM451 116h1v3h-1zM452 116h1v3h-1zM453 116h1v3h-1zM454 116h1v3h-1zM455 116h1v3h-1zM456 116h1v3h-1zM457 116h1v3h-1zM458 116h1v3h-1zM459 116h1v3h-1zM460 116h1v3h-1zM461 116h1v3h-1zM462 116h1v3h-1zM463 116h1v3h-1zM464 116h1v3h-1zM465 116h1v3h-1zM466 116h1v3h-1zM467 116h1v3h-1zM468 116h1v3h-1zM469 116h1v3h-1zM470 116h1v3h-1zM471 116h1v3h-1zM472 116h1v3h-1zM473 116h1v3h-1zM474 116h1v3h-1zM475 116h1v3h-1zM476 116h1v3h-1zM477 116h1v3h-1zM478 116h1v3h-1zM479 116h1v3h-1zM480 116h1v3h-1z" fill="#00ff00"/></svg></body></html>
